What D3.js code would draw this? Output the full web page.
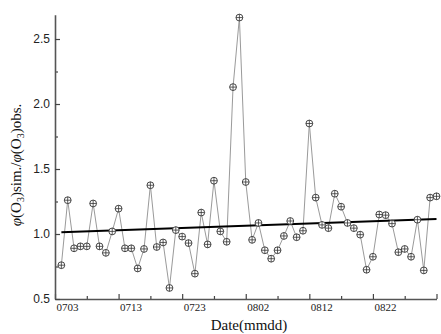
<!DOCTYPE html>
<html>
<head>
<meta charset="utf-8">
<script src="https://cdn.jsdelivr.net/npm/d3@7"></script>
<style>
  body { margin: 0; background: #fff; }
  .ylab text { font-family: "Liberation Sans", Arial, sans-serif; font-size: 12px; fill: #222; }
  .xlab text { font-family: "Liberation Serif", "Times New Roman", serif; font-size: 11px; fill: #222; }
</style>
</head>
<body>
<div id="chart"></div>
<script>
// observation days (mmdd)
var dates = [
  "0704","0705","0706","0707","0708","0709","0710","0711","0712","0713",
  "0714","0715","0716","0717","0718","0719","0720","0721","0722","0723",
  "0724","0725","0726","0727","0728","0729","0730","0731","0801","0802",
  "0803","0804","0805","0806","0807","0808","0809","0810","0811","0812",
  "0813","0814","0815","0816","0817","0818","0819","0820","0821","0822",
  "0823","0824","0825","0826","0827","0828","0829","0830","0831","0901"
];

// ratio sim/obs
var ratios = [
  0.76, 1.26, 0.89, 0.905, 0.905, 1.235, 0.905, 0.855, 1.02, 1.195,
  0.89, 0.89, 0.735, 0.885, 1.375, 0.90, 0.935, 0.585, 1.03, 0.98,
  0.93, 0.695, 1.165, 0.92, 1.41, 1.02, 0.94, 2.13, 2.665, 1.40,
  0.955, 1.085, 0.875, 0.81, 0.875, 0.985, 1.10, 0.975, 1.025, 1.85,
  1.28, 1.07, 1.045, 1.31, 1.21, 1.085, 1.045, 0.995, 0.725, 0.825,
  1.15, 1.145, 1.08, 0.86, 0.885, 0.825, 1.11, 0.72, 1.28, 1.29
];

// linear trend line
var trendDates = ["0704", "0901"];
var trendValues = [1.013, 1.115];

// axis ticks
var xMajorTicks = ["0703","0713","0723","0802","0812","0822","0901"];
var xMinorTicks = ["0708","0718","0728","0807","0817","0827"];
var yMajorTicks = [0.5, 1.0, 1.5, 2.0, 2.5];
var yMinorTicks = [0.75, 1.25, 1.75, 2.25];

var width = 441,
    height = 334;

var parseDay = d3.timeParse("%Y%m%d");
function toDate(s) { return parseDay("2000" + s); }

var svg = d3.select("#chart")
            .append("svg")
            .attr("width", width)
            .attr("height", height);

var x = d3.scaleTime()
          .domain([toDate("0703"), toDate("0901")])
          .range([55, 436.5]);

var y = d3.scaleLinear()
          .domain([0.5, 2.687])
          .range([299, 14.7]);

// x axis
var xMinor = svg.append("g")
    .attr("transform", "translate(0,299)")
    .call(d3.axisBottom(x)
        .tickValues(xMinorTicks.map(toDate))
        .tickSize(-3)
        .tickSizeOuter(0)
        .tickFormat(""));
xMinor.select(".domain").remove();

var xAxis = svg.append("g")
    .attr("class", "xlab")
    .attr("transform", "translate(0,299)")
    .call(d3.axisBottom(x)
        .tickValues(xMajorTicks.map(toDate))
        .tickSize(-5)
        .tickSizeOuter(0)
        .tickPadding(4)
        .tickFormat(d3.timeFormat("%m%d")));
xAxis.selectAll("text")
    .attr("text-anchor", "start")
    .attr("dx", 1)
    .filter(function(d) { return +d === +toDate("0901"); })
    .remove();

// y axis
var yMinor = svg.append("g")
    .attr("transform", "translate(55,0)")
    .call(d3.axisLeft(y)
        .tickValues(yMinorTicks)
        .tickSize(-3)
        .tickSizeOuter(0)
        .tickFormat(""));
yMinor.select(".domain").remove();

svg.append("g")
    .attr("class", "ylab")
    .attr("transform", "translate(55,0)")
    .call(d3.axisLeft(y)
        .tickValues(yMajorTicks)
        .tickSize(-5)
        .tickSizeOuter(0)
        .tickPadding(5)
        .tickFormat(d3.format(".1f")));

svg.selectAll(".domain")
    .attr("stroke", "#555")
    .attr("stroke-width", 1.6);
svg.selectAll(".tick line")
    .attr("stroke", "#444")
    .attr("stroke-width", 1.2);

// data line
var line = d3.line()
    .x(function(d, i) { return x(toDate(dates[i])); })
    .y(function(d) { return y(d); });

svg.append("path")
    .datum(ratios)
    .attr("d", line)
    .attr("fill", "none")
    .attr("stroke", "#9a9a9a")
    .attr("stroke-width", 1);

// trend
svg.append("path")
    .datum(trendValues)
    .attr("d", d3.line()
        .x(function(d, i) { return x(toDate(trendDates[i])); })
        .y(function(d) { return y(d); }))
    .attr("fill", "none")
    .attr("stroke", "#000")
    .attr("stroke-width", 2);

// markers: circle with cross
var r = 3.4;
var marks = svg.append("g")
    .selectAll("g")
    .data(ratios)
    .enter()
    .append("g")
    .attr("transform", function(d, i) {
        return "translate(" + x(toDate(dates[i])) + "," + y(d) + ")";
    });

marks.append("circle")
    .attr("r", r)
    .attr("fill", "#fff")
    .attr("stroke", "#333")
    .attr("stroke-width", 0.9);
marks.append("line")
    .attr("x1", -r).attr("x2", r)
    .attr("stroke", "#333").attr("stroke-width", 0.8);
marks.append("line")
    .attr("y1", -r).attr("y2", r)
    .attr("stroke", "#333").attr("stroke-width", 0.8);

// axis titles
svg.append("text")
    .attr("x", 249)
    .attr("y", 330)
    .attr("text-anchor", "middle")
    .style("font-family", "'Liberation Serif', 'Times New Roman', serif")
    .style("font-size", "15px")
    .style("fill", "#111")
    .text("Date(mmdd)");

var yTitle = svg.append("text")
    .attr("transform", "translate(21,165) rotate(-90)")
    .attr("text-anchor", "middle")
    .style("font-family", "'Liberation Serif', 'Times New Roman', serif")
    .style("font-size", "15px")
    .style("fill", "#111");

var parts = [
    {t: "\u03C6", it: true}, {t: "(O"}, {t: "3", sub: true}, {t: ")sim./"},
    {t: "\u03C6", it: true}, {t: "(O"}, {t: "3", sub: true}, {t: ")obs."}
];
parts.forEach(function(p, i) {
    var ts = yTitle.append("tspan").text(p.t);
    if (p.it) ts.style("font-style", "italic");
    if (p.sub) ts.style("font-size", "10px").attr("dy", 3);
    else if (i > 0 && parts[i - 1].sub) ts.attr("dy", -3);
});
</script>
</body>
</html>
